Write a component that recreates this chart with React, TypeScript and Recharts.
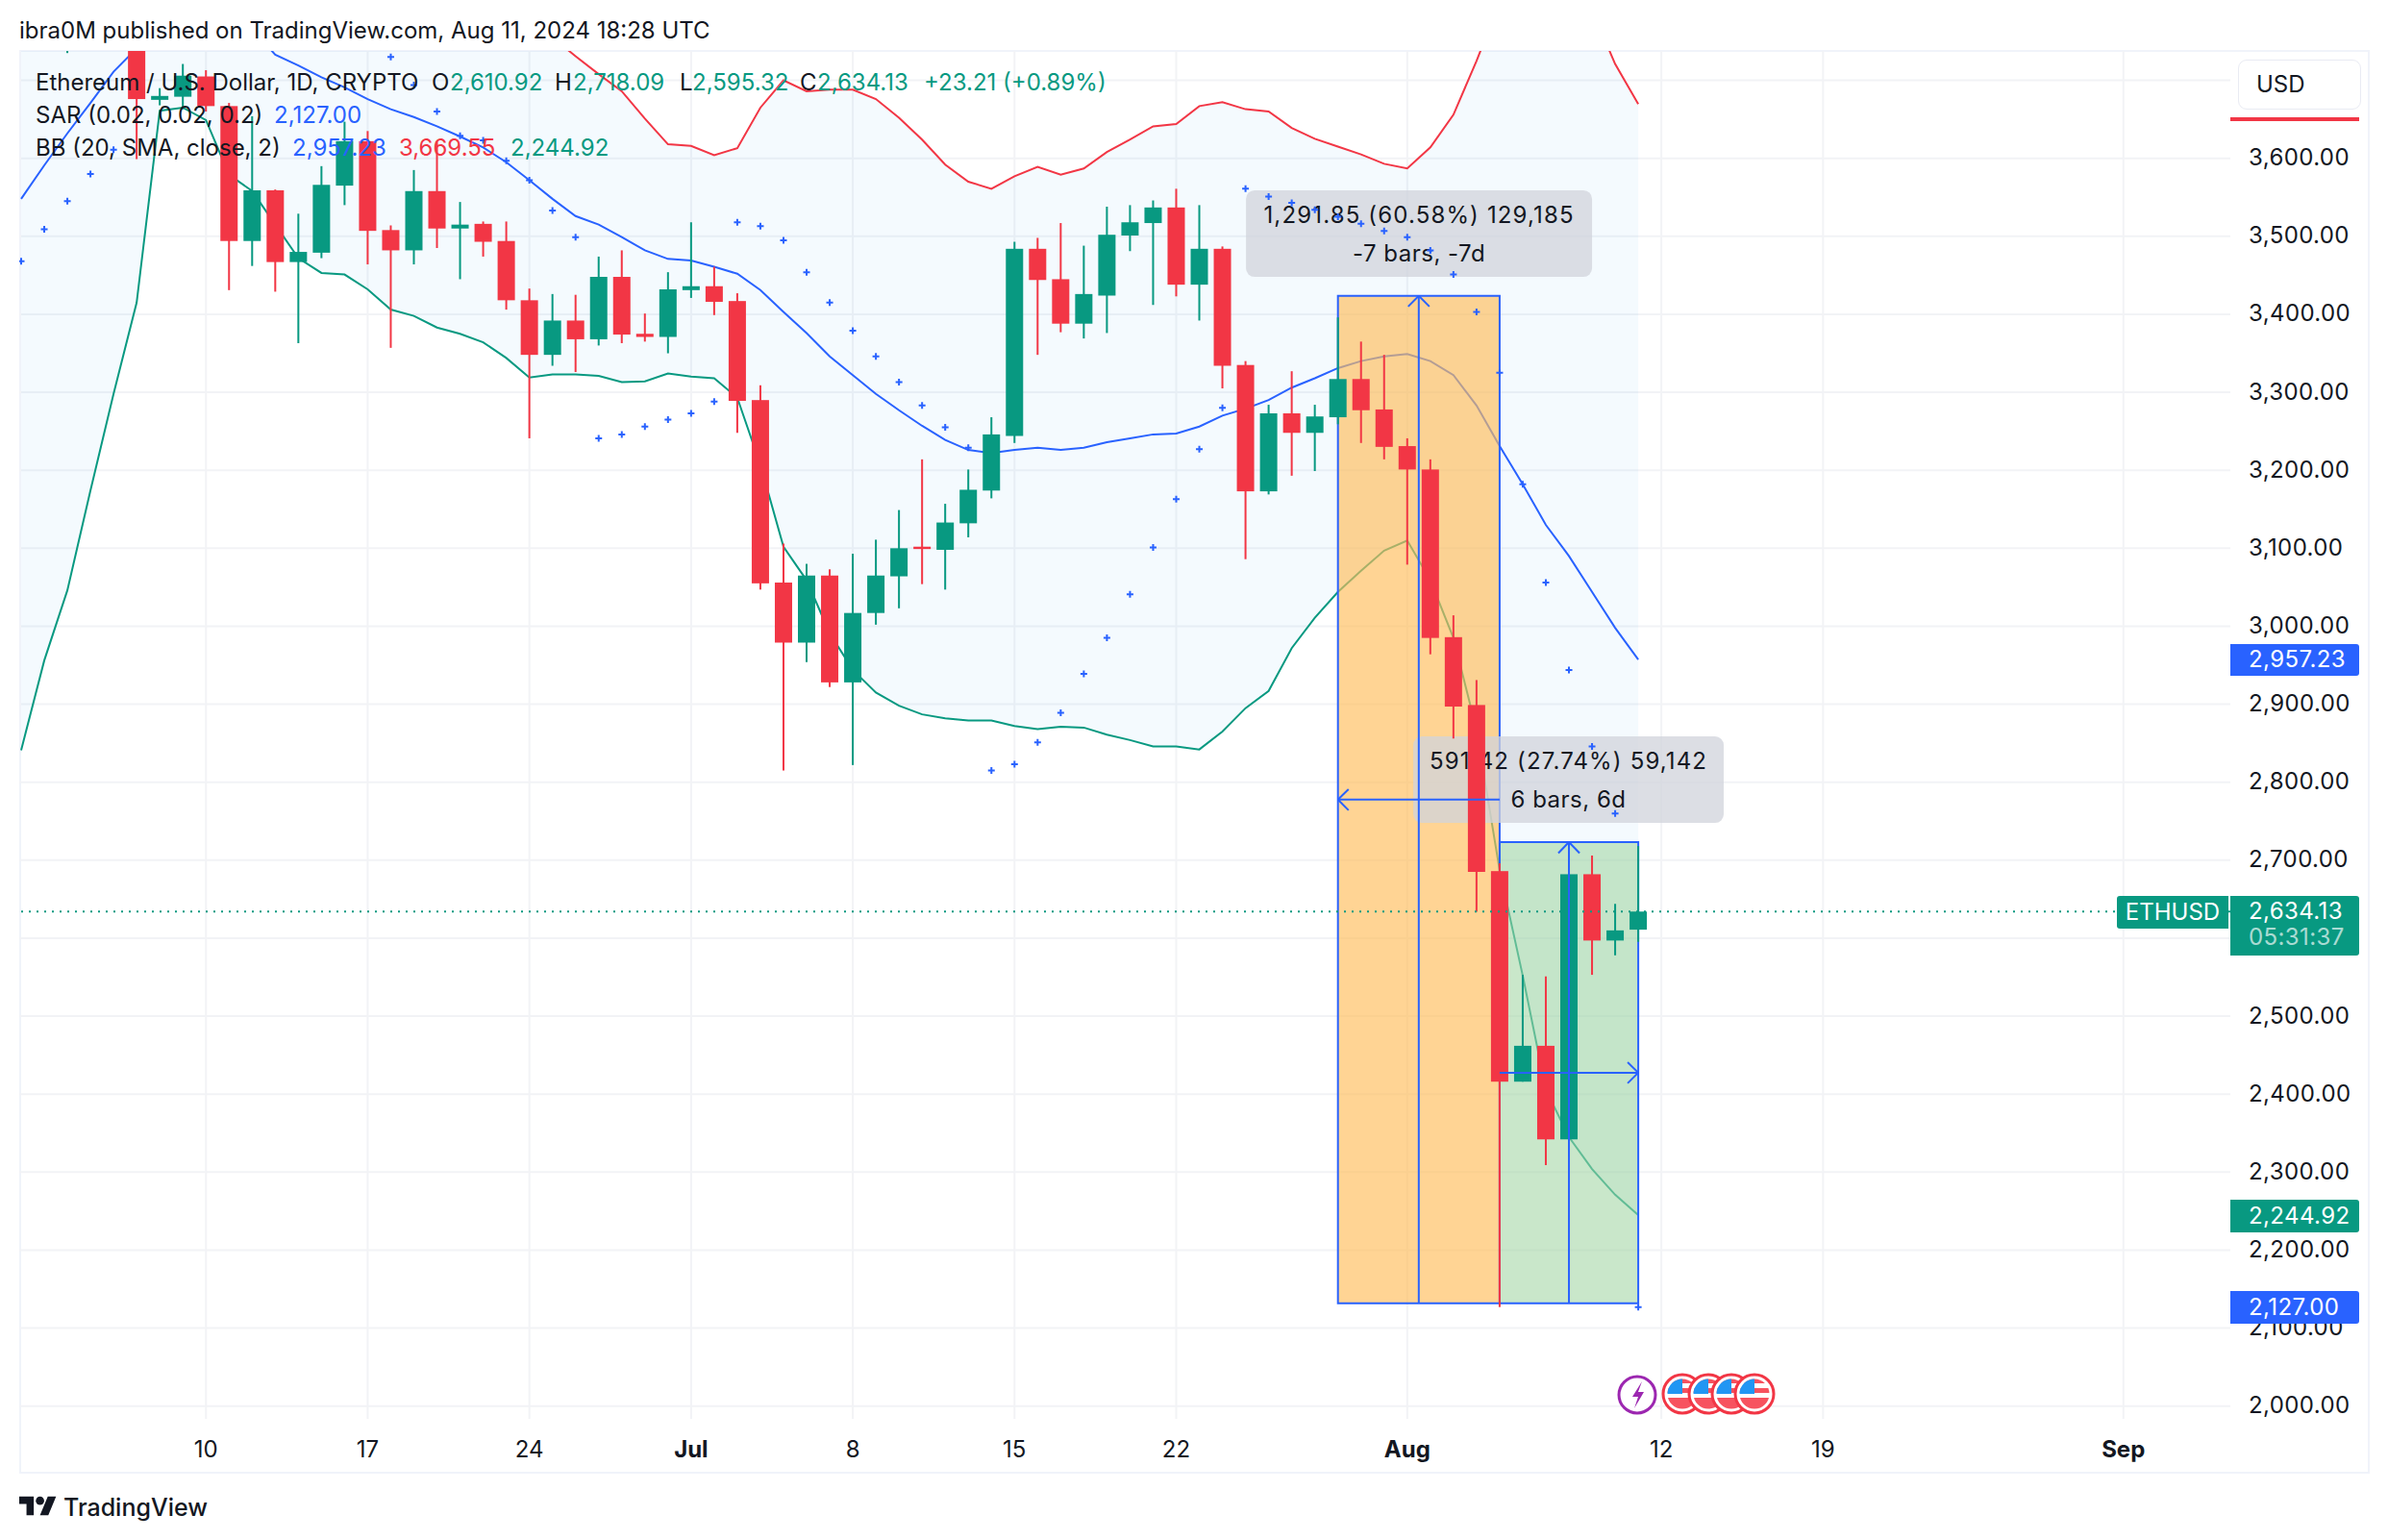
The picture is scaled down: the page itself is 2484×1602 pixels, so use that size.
import React from "react";
import {
  ComposedChart,
  Area,
  Bar,
  Line,
  XAxis,
  YAxis,
  CartesianGrid,
  ReferenceArea,
  ReferenceLine,
} from "recharts";

// daily candles, index 0 = Jun 2, index 70 = Aug 11
const opens = [
  3810, 3780, 3767, 3811, 3865, 3812, 3675, 3679, 3705, 3667, 3494, 3559, 3467, 3479, 3565, 3622, 3508, 3482, 3558, 3510, 3516, 3494, 3418, 3348, 3392, 3368, 3448, 3375, 3371,
  3431, 3436, 3417, 3290, 3056, 2979, 3065, 2928, 3017, 3064, 3102, 3098, 3132, 3174, 3244, 3484, 3445, 3388, 3424, 3501, 3517, 3537, 3438, 3484, 3335, 3173, 3273, 3248, 3268, 3317, 3278,
  3231, 3201, 2986, 2899, 2686, 2416, 2462, 2342, 2682, 2597, 2610.92,
];
const closes = [
  3780, 3767, 3811, 3865, 3812, 3676, 3680, 3706, 3667, 3494, 3559, 3467, 3480, 3566, 3622, 3507, 3482, 3558, 3510, 3515, 3493, 3418, 3348, 3392, 3368, 3448, 3374, 3371, 3432,
  3436, 3416, 3289, 3055, 2979, 3065, 2928, 3017, 3065, 3100, 3099, 3133, 3175, 3246, 3484, 3444, 3388, 3426, 3502, 3518, 3537, 3438, 3484, 3334, 3173, 3273, 3248, 3269, 3317, 3277, 3230,
  3201, 2985, 2897, 2685, 2416, 2462, 2342, 2682, 2597, 2610, 2634.13,
];
const highs = [
  3830, 3850, 3830, 3887, 3880, 3840, 3690, 3721, 3713, 3671, 3654, 3560, 3529, 3590, 3647, 3635, 3514, 3585, 3622, 3544, 3519, 3519, 3433, 3426, 3425, 3474, 3482, 3401, 3454,
  3518, 3461, 3427, 3309, 3106, 3080, 3073, 3093, 3111, 3149, 3214, 3157, 3201, 3268, 3493, 3498, 3517, 3488, 3538, 3540, 3546, 3561, 3540, 3487, 3340, 3284, 3327, 3284, 3396, 3365, 3348,
  3241, 3214, 3014, 2931, 2696, 2553, 2551, 2722, 2706, 2644, 2718.09,
];
const lows = [
  3750, 3760, 3735, 3780, 3760, 3599, 3668, 3663, 3660, 3431, 3462, 3429, 3363, 3472, 3540, 3464, 3357, 3464, 3485, 3445, 3474, 3406, 3241, 3334, 3326, 3360, 3363, 3365, 3350,
  3421, 3399, 3248, 3047, 2815, 2954, 2922, 2822, 3002, 3023, 3054, 3047, 3114, 3164, 3235, 3348, 3377, 3369, 3376, 3481, 3412, 3423, 3392, 3305, 3086, 3169, 3193, 3199, 3259, 3235, 3214,
  3079, 2964, 2856, 2634, 2127, 2416, 2309, 2320, 2553, 2578, 2595.32,
];

// bollinger bands
const bbUpper = [
  4100, 4120, 4140, 4150, 4155, 4150, 4130, 4115, 4100, 4080, 4060, 4040, 4020, 4000, 3980, 3960, 3930, 3900, 3880, 3860, 3840, 3810, 3790, 3755, 3731, 3708, 3686, 3651, 3618,
  3616, 3604, 3613, 3665, 3700, 3686, 3688, 3688, 3676, 3652, 3624, 3592, 3570, 3561, 3577, 3589, 3579, 3587, 3608, 3624, 3641, 3644, 3667, 3672, 3663, 3660, 3639, 3625, 3615, 3605, 3593,
  3587, 3614, 3656, 3725, 3800, 3900, 3920, 3870, 3790, 3721, 3669.55,
];
const bbMiddle = [
  3548, 3591, 3632, 3671, 3711, 3741, 3765, 3775, 3780, 3775, 3765, 3733, 3719, 3704, 3691, 3676, 3663, 3653, 3641, 3628, 3614, 3595, 3572, 3548, 3526, 3515, 3499, 3482, 3471,
  3469, 3461, 3452, 3431, 3403, 3376, 3346, 3322, 3298, 3277, 3257, 3239, 3226, 3222, 3226, 3229, 3226, 3229, 3236, 3241, 3246, 3247, 3256, 3270, 3279, 3290, 3306, 3318, 3331, 3340, 3346,
  3349, 3340, 3322, 3283, 3231, 3182, 3130, 3090, 3044, 2998, 2957.23,
];
const bbLower = [
  2841, 2956, 3046, 3174, 3298, 3415, 3661, 3665, 3649, 3579, 3558, 3515, 3472, 3453, 3451, 3432, 3406, 3398, 3383, 3375, 3364, 3344, 3319, 3323, 3323, 3321, 3313, 3314, 3324,
  3320, 3318, 3293, 3207, 3102, 3059, 2991, 2944, 2915, 2898, 2887, 2882, 2879, 2879, 2872, 2868, 2871, 2870, 2861, 2854, 2846, 2846, 2842, 2865, 2895, 2917, 2972, 3011, 3044, 3071, 3097,
  3110, 3059, 2985, 2867, 2687, 2552, 2406, 2345, 2304, 2271, 2244.92,
];

// parabolic sar
const sar = [
  3468, 3509, 3545, 3580, 3611, 3887, 3880, 3870, 3860, 3850, 3835, 3815, 3795, 3775, 3760, 3745, 3730, 3694, 3660, 3629, 3623, 3597, 3572, 3533, 3499, 3241, 3246, 3256, 3265,
  3273, 3288, 3518, 3513, 3495, 3454, 3415, 3379, 3346, 3313, 3283, 3255, 3229, 2815, 2823, 2851, 2889, 2939, 2985, 3041, 3101, 3163, 3227, 3280, 3561, 3551, 3543, 3534, 3525, 3516, 3507,
  3499, 3482, 3451, 3403, 3325, 3182, 3056, 2944, 2846, 2760, 2127,
];

const xTicks = [8, 15, 22, 29, 36, 43, 50, 60, 71, 78, 91];
const xLabels = ["10", "17", "24", "Jul", "8", "15", "22", "Aug", "12", "19", "Sep"];
const boldLabels = ["Jul", "Aug", "Sep"];
const priceTicks = [2000, 2100, 2200, 2300, 2400, 2500, 2600, 2700, 2800, 2900, 3000, 3100, 3200, 3300, 3400, 3500, 3600];
const gridPrices = [...priceTicks, 3700];

const GREEN = "#089981";
const RED = "#f23645";
const BLUE = "#2962ff";
const INK = "#131722";
const FONT = "Inter, 'Liberation Sans', sans-serif";

const chartData = opens.map((open, i) => ({
  day: i,
  open,
  close: closes[i],
  high: highs[i],
  low: lows[i],
  bbUpper: bbUpper[i],
  bbMiddle: bbMiddle[i],
  bbLower: bbLower[i],
  sar: sar[i],
}));

const Candle = (props: any) => {
  const { x, y, width, height, payload } = props;
  const perPrice = height / (payload.high - payload.low);
  const yOf = (p: number) => y + (payload.high - p) * perPrice;
  const color = payload.close >= payload.open ? GREEN : RED;
  const top = yOf(Math.max(payload.open, payload.close));
  const bottom = yOf(Math.min(payload.open, payload.close));
  const mid = x + width / 2;
  return (
    <g>
      <rect x={mid - 1} y={y} width={2} height={height} fill={color} />
      <rect x={x} y={top} width={width} height={Math.max(bottom - top, 2)} fill={color} />
    </g>
  );
};

const SarDot = (props: any) => {
  const { cx, cy, index } = props;
  if (cx == null || cy == null) return <g key={index} />;
  return (
    <path
      key={index}
      d={`M${cx - 3.5} ${cy}H${cx + 3.5}M${cx} ${cy - 3.5}V${cy + 3.5}`}
      stroke={BLUE}
      strokeWidth={2}
      fill="none"
    />
  );
};

const TimeTick = (props: any) => {
  const { x, y, payload } = props;
  const label = xLabels[xTicks.indexOf(payload.value)];
  return (
    <text
      x={x}
      y={y + 38}
      textAnchor="middle"
      fontSize={24}
      fontFamily={FONT}
      fontWeight={boldLabels.includes(label) ? 700 : 400}
      fill={INK}
    >
      {label}
    </text>
  );
};

// grey measure box with two lines of text
const measureShape = (line1: string, line2: string) => (props: any) => {
  const { x, y, width, height } = props;
  const cx = x + width / 2;
  const textProps = { x: cx, textAnchor: "middle", fontSize: 24, fontFamily: FONT, fill: INK } as any;
  return (
    <g>
      <rect x={x} y={y} width={width} height={height} rx={9} fill="#d1d4dc" fillOpacity={0.76} />
      <text {...textProps} y={y + 34} letterSpacing={1.15}>
        {line1}
      </text>
      <text {...textProps} y={y + 74} letterSpacing={0.5}>
        {line2}
      </text>
    </g>
  );
};

const arrow = (key: string, x1: number, y1: number, x2: number, y2: number, wing: [number, number, number, number]) => [
  <ReferenceLine key={key} segment={[{ x: x1, y: y1 }, { x: x2, y: y2 }]} stroke={BLUE} strokeWidth={2} />,
  <ReferenceLine key={key + "a"} segment={[{ x: wing[0], y: wing[1] }, { x: x2, y: y2 }]} stroke={BLUE} strokeWidth={2} />,
  <ReferenceLine key={key + "b"} segment={[{ x: wing[2], y: wing[3] }, { x: x2, y: y2 }]} stroke={BLUE} strokeWidth={2} />,
];

const PriceTag = ({ top, height, color, children }: any) => (
  <div
    style={{
      position: "absolute",
      left: 2320,
      top,
      width: 134,
      height,
      background: color,
      borderRadius: "0 3px 3px 0",
      color: "#fff",
      fontSize: 24,
      letterSpacing: 0.4,
    }}
  >
    {children}
  </div>
);

const TagText = ({ y, dim, children }: any) => (
  <div
    style={{
      position: "absolute",
      left: 19,
      top: y,
      lineHeight: "28px",
      opacity: dim ? 0.65 : 1,
    }}
  >
    {children}
  </div>
);

const Legend = ({ left, top, color, children }: any) => (
  <div
    style={{
      position: "absolute",
      left,
      top,
      lineHeight: "28px",
      fontSize: 24,
      color: color || INK,
      whiteSpace: "nowrap",
    }}
  >
    {children}
  </div>
);

const UsFlag = ({ cx }: { cx: number }) => (
  <g>
    <circle cx={cx} cy={1450} r={20} fill="#fff" stroke={RED} strokeWidth={3} />
    <clipPath id={`flag${cx}`}>
      <circle cx={cx} cy={1450} r={15.5} />
    </clipPath>
    <g clipPath={`url(#flag${cx})`}>
      <rect x={cx - 16} y={1434} width={32} height={32} fill="#fff" />
      <rect x={cx - 16} y={1434} width={32} height={5} fill="#f7525f" />
      <rect x={cx - 16} y={1444} width={32} height={5} fill="#f7525f" />
      <rect x={cx - 16} y={1454} width={32} height={12} fill="#f7525f" />
      <rect x={cx - 16} y={1434} width={16} height={16} fill="#2196f3" />
    </g>
  </g>
);

export default function App() {
  return (
    <div
      style={{
        position: "absolute",
        left: 0,
        top: 0,
        width: 2484,
        height: 1602,
        background: "#fff",
        overflow: "hidden",
        fontFamily: FONT,
        color: INK,
      }}
    >
      <div style={{ position: "absolute", left: 20, top: 18, fontSize: 24, lineHeight: "28px", whiteSpace: "nowrap" }}>
        ibra0M published on TradingView.com, Aug 11, 2024 18:28 UTC
      </div>
      <div
        style={{
          position: "absolute",
          left: 20,
          top: 52,
          width: 2445,
          height: 1481,
          boxSizing: "border-box",
          border: "2px solid #f0f3fa",
        }}
      />

      <div style={{ position: "absolute", left: 0, top: 0 }}>
        <ComposedChart
          width={2484}
          height={1602}
          data={chartData}
          margin={{ left: 20, top: 53, right: 20, bottom: 70 }}
        >
          <CartesianGrid stroke="#f2f3f6" strokeWidth={2} horizontalValues={gridPrices} verticalValues={xTicks} />
          <XAxis
            dataKey="day"
            type="number"
            domain={[-0.083, 95.63]}
            allowDataOverflow
            ticks={xTicks}
            interval={0}
            height={56}
            axisLine={false}
            tickLine={false}
            tickSize={0}
            tick={<TimeTick />}
          />
          <YAxis
            orientation="right"
            type="number"
            domain={[1983.6, 3737.7]}
            allowDataOverflow
            ticks={priceTicks}
            interval={0}
            width={144}
            axisLine={false}
            tickLine={false}
            tickSize={0}
            tickMargin={19}
            tickFormatter={(v: number) => v.toLocaleString("en-US", { minimumFractionDigits: 2 })}
            tick={{ fontSize: 24, fill: INK, fontFamily: FONT, letterSpacing: 0.4, dy: -1 }}
          />

          <Area
            dataKey={(d: any) => [d.bbLower, d.bbUpper]}
            type="linear"
            stroke="none"
            fill="#2196f3"
            fillOpacity={0.05}
            isAnimationActive={false}
            zIndex={100}
          />
          <Line dataKey="bbMiddle" type="linear" stroke={BLUE} strokeWidth={2} dot={false} isAnimationActive={false} zIndex={110} />
          <Line dataKey="bbUpper" type="linear" stroke={RED} strokeWidth={2} dot={false} isAnimationActive={false} zIndex={110} />
          <Line dataKey="bbLower" type="linear" stroke={GREEN} strokeWidth={2} dot={false} isAnimationActive={false} zIndex={110} />
          <Line dataKey="sar" stroke="none" dot={<SarDot />} isAnimationActive={false} zIndex={120} />

          {/* white layer washes out whatever runs under the boxes */}
          <ReferenceArea x1={57} x2={64} y1={2131.85} y2={3423.7} fill="#fff" fillOpacity={0.4} stroke="none" zIndex={125} />
          <ReferenceArea x1={64} x2={70} y1={2131.85} y2={2723.27} fill="#fff" fillOpacity={0.4} stroke="none" zIndex={125} />
          <ReferenceArea x1={57} x2={64} y1={2131.85} y2={3423.7} fill="#ff9800" fillOpacity={0.42} stroke={BLUE} strokeWidth={2} zIndex={130} />
          <ReferenceArea x1={64} x2={70} y1={2131.85} y2={2723.27} fill="#4caf50" fillOpacity={0.3} stroke={BLUE} strokeWidth={2} zIndex={130} />
          {arrow("up1", 60.5, 2131.85, 60.5, 3423.7, [60.04, 3410, 60.96, 3410])}
          {arrow("left1", 64, 2777.8, 57, 2777.8, [57.46, 2791, 57.46, 2764])}
          {arrow("up2", 67, 2131.85, 67, 2723.27, [66.54, 2709, 67.46, 2709])}
          {arrow("right2", 64, 2427.5, 70, 2427.5, [69.54, 2441, 69.54, 2414])}
          <ReferenceArea
            x1={53.02}
            x2={68}
            y1={3448}
            y2={3559}
            shape={measureShape("1,291.85 (60.58%) 129,185", "-7 bars, -7d")}
            zIndex={140}
          />
          <ReferenceArea
            x1={60.26}
            x2={73.7}
            y1={2747.8}
            y2={2858.7}
            shape={measureShape("591.42 (27.74%) 59,142", "6 bars, 6d")}
            zIndex={140}
          />

          <Bar dataKey={(d: any) => [d.low, d.high]} barSize={18} shape={<Candle />} isAnimationActive={false} zIndex={300} />

          <ReferenceLine y={2634.13} stroke={GREEN} strokeWidth={2} strokeDasharray="2 6" zIndex={310} />
        </ComposedChart>
      </div>

      {/* indicator legend */}
      <Legend left={37} top={72}>Ethereum / U.S. Dollar, 1D, CRYPTO</Legend>
      <Legend left={449} top={72}>O</Legend>
      <Legend left={468} top={72} color={GREEN}>2,610.92</Legend>
      <Legend left={577} top={72}>H</Legend>
      <Legend left={596} top={72} color={GREEN}>2,718.09</Legend>
      <Legend left={707} top={72}>L</Legend>
      <Legend left={720} top={72} color={GREEN}>2,595.32</Legend>
      <Legend left={832} top={72}>C</Legend>
      <Legend left={850} top={72} color={GREEN}>2,634.13</Legend>
      <Legend left={961} top={72} color={GREEN}>+23.21 (+0.89%)</Legend>
      <Legend left={37} top={106}>SAR (0.02, 0.02, 0.2)</Legend>
      <Legend left={285} top={106} color={BLUE}>2,127.00</Legend>
      <Legend left={37} top={140}>BB (20, SMA, close, 2)</Legend>
      <Legend left={304} top={140} color={BLUE}>2,957.23</Legend>
      <Legend left={415} top={140} color={RED}>3,669.55</Legend>
      <Legend left={531} top={140} color={GREEN}>2,244.92</Legend>

      {/* currency button and price labels */}
      <div
        style={{
          position: "absolute",
          left: 2328,
          top: 62,
          width: 128,
          height: 52,
          boxSizing: "border-box",
          border: "1px solid #e9ebf3",
          borderRadius: 9,
          background: "#fff",
          fontSize: 24,
          lineHeight: "50px",
          paddingLeft: 18,
        }}
      >
        USD
      </div>
      <div style={{ position: "absolute", left: 2320, top: 122, width: 134, height: 4, background: RED }} />

      <PriceTag top={670} height={33} color={BLUE}><TagText y={2}>2,957.23</TagText></PriceTag>
      <PriceTag top={932} height={62} color={GREEN}>
        <TagText y={2}>2,634.13</TagText>
        <TagText y={29} dim>05:31:37</TagText>
      </PriceTag>
      <PriceTag top={1248} height={34} color={GREEN}><TagText y={3}>2,244.92</TagText></PriceTag>
      <PriceTag top={1343} height={34} color={BLUE}><TagText y={3}>2,127.00</TagText></PriceTag>
      <div
        style={{
          position: "absolute",
          left: 2202,
          top: 932,
          width: 116,
          height: 34,
          background: GREEN,
          borderRadius: "3px 0 0 3px",
          color: "#fff",
          fontSize: 24,
          lineHeight: "33px",
          textAlign: "center",
        }}
      >
        ETHUSD
      </div>

      {/* events and logo */}
      <svg width={2484} height={1602} style={{ position: "absolute", left: 0, top: 0 }}>
        <circle cx={1703} cy={1451} r={19} fill="#fff" stroke="#9c27b0" strokeWidth={3} />
        <path d="M1708 1437L1698 1453H1704L1700 1465L1710 1448H1704Z" fill="#9c27b0" />
        <UsFlag cx={1750} />
        <UsFlag cx={1777} />
        <UsFlag cx={1801} />
        <UsFlag cx={1825} />
        <g transform="translate(20 1552.5) scale(1.08)" fill={INK}>
          <path d="M14 22H7V11H0V4h14v18zM28 22h-8l7.5-18h8L28 22z" />
          <circle cx={20} cy={8} r={4} />
        </g>
      </svg>
      <div style={{ position: "absolute", left: 66, top: 1553, fontSize: 25, lineHeight: "30px", fontWeight: 500, whiteSpace: "nowrap" }}>
        TradingView
      </div>
    </div>
  );
}
